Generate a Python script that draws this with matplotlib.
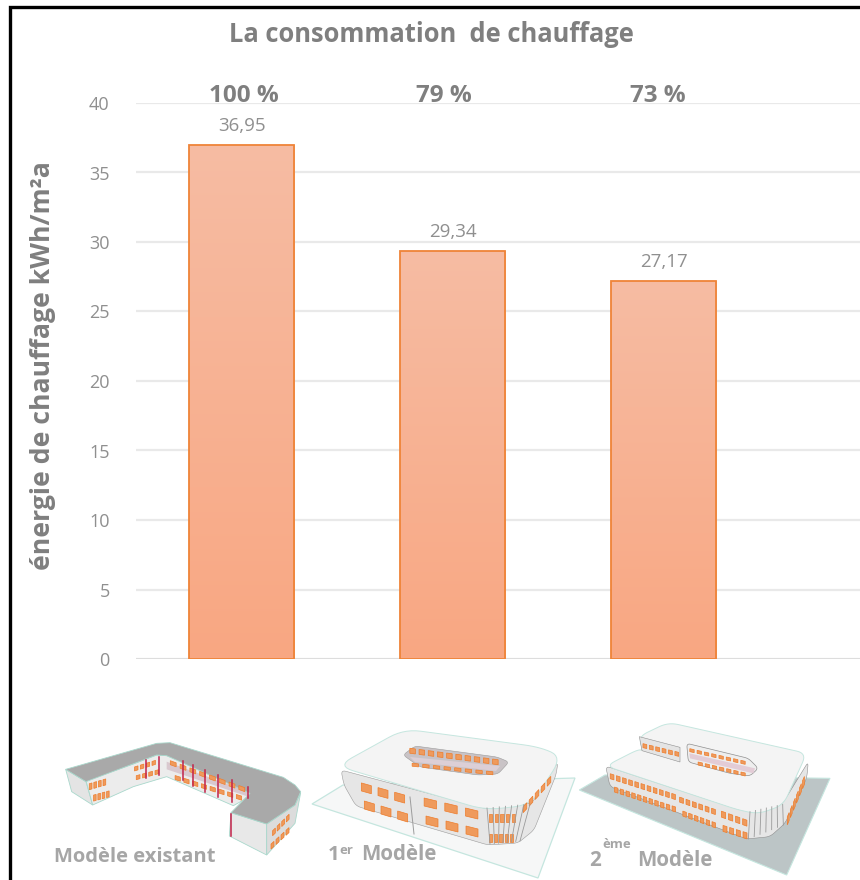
import numpy as np
import matplotlib
matplotlib.use('Agg')
import matplotlib.pyplot as plt
from matplotlib.patches import Polygon

plt.rcParams['font.family'] = ['Open Sans', 'DejaVu Sans']

categories = ['Modèle existant', '1er Modèle', '2ème Modèle']
values = [36.95, 29.34, 27.17]
value_labels = ['36,95', '29,34', '27,17']
percent_labels = ['100 %', '79 %', '73 %']
y_ticks = [0, 5, 10, 15, 20, 25, 30, 35, 40]

GREY = '#7f7f7f'
LIGHT = '#8f8f8f'
CAPTION = '#a6a6a6'
ORANGE = '#ef8438'
W, H = 860, 880

fig = plt.figure(figsize=(W / 100, H / 100), dpi=100)
ax = fig.add_axes([136 / W, 1 - 659 / H, (W - 136) / W, (659 - 103) / H])

ax.set_xlim(-0.5, 2.93)
ax.set_ylim(0, 40)
ax.set_yticks(y_ticks)
ax.set_xticks([])
ax.tick_params(axis='y', length=0, pad=19, labelsize=13, labelcolor=LIGHT)
ax.grid(axis='y', color='#e9e9e9', linewidth=1.6)
ax.set_axisbelow(True)
for s in ax.spines.values():
    s.set_visible(False)
ax.axhline(0, color='#dcdcdc', linewidth=2, zorder=1)

# barres avec degrade vertical
gradient = np.linspace(0, 1, 256).reshape(-1, 1)
cmap = matplotlib.colors.LinearSegmentedColormap.from_list('bar', ['#f9a782', '#f6bca3'])
bars = ax.bar(range(3), values, width=0.5, facecolor='none', edgecolor=ORANGE, linewidth=1.3, zorder=4)
for i, rect in enumerate(bars):
    im = ax.imshow(gradient, cmap=cmap, origin='lower', aspect='auto', zorder=3,
                   extent=(i - 0.25, i + 0.25, 0, values[i]))
    im.set_clip_path(rect)
ax.set_xlim(-0.5, 2.93)
ax.set_ylim(0, 40)

for i, v in enumerate(values):
    ax.text(i, v + 0.75, value_labels[i], ha='center', va='bottom', fontsize=13.5, color=LIGHT)

percent_pos = [0.01, 0.96, 1.97]
for x, label in zip(percent_pos, percent_labels):
    ax.text(x, 40.1, label, ha='center', va='baseline', fontsize=17.5, fontweight='bold',
            color=GREY, clip_on=False, zorder=5)

# calque en pixels pour le cadre, les textes et les maquettes
ov = fig.add_axes([0, 0, 1, 1], zorder=10)
ov.set_xlim(0, W)
ov.set_ylim(H, 0)
ov.axis('off')
ov.patch.set_alpha(0)

ov.plot([10, 10, W], [H, 7, 7], color='black', linewidth=2.4, solid_joinstyle='miter')

ov.text(431, 34, 'La consommation  de chauffage', ha='center', va='center', fontsize=18.4,
        fontweight='bold', color=GREY)
ov.text(43, 366, 'énergie de chauffage kWh/m²a', rotation=90, ha='center', va='center',
        fontsize=19.2, fontweight='bold', color=GREY)

ov.text(54, 857, categories[0], ha='left', va='center', fontsize=14.5, fontweight='bold', color=CAPTION)
ov.text(328, 855, '1', ha='left', va='center', fontsize=14.5, fontweight='bold', color=CAPTION)
ov.text(339, 850, 'er', ha='left', va='center', fontsize=9.5, fontweight='bold', color=CAPTION)
ov.text(361, 855, 'Modèle', ha='left', va='center', fontsize=14.8, fontweight='bold', color=CAPTION)
ov.text(589, 860, '2', ha='left', va='center', fontsize=14.8, fontweight='bold', color=CAPTION)
ov.text(602, 845, 'ème', ha='left', va='center', fontsize=9.5, fontweight='bold', color=CAPTION)
ov.text(637, 860, 'Modèle', ha='left', va='center', fontsize=14.8, fontweight='bold', color=CAPTION)


def poly(pts, fc, ec='none', lw=0.6, z=11):
    ov.add_patch(Polygon(pts, closed=True, facecolor=fc, edgecolor=ec, linewidth=lw, zorder=z))


# arrondit les angles d'un contour, rayon en pixels
def rounded(pts, r):
    pts = [np.array(p, float) for p in pts]
    out = []
    n = len(pts)
    for i in range(n):
        p, prev, nxt = pts[i], pts[i - 1], pts[(i + 1) % n]
        a = p + (prev - p) * min(r / np.linalg.norm(prev - p), 0.5)
        b = p + (nxt - p) * min(r / np.linalg.norm(nxt - p), 0.5)
        for t in np.linspace(0, 1, 8):
            out.append((1 - t) ** 2 * a + 2 * t * (1 - t) * p + t ** 2 * b)
    return out


def windows(a, b, h, n, fill=0.6, color='#ef9a5c', z=13):
    a, b = np.array(a, float), np.array(b, float)
    step = (b - a) / n
    for k in range(n):
        p = a + step * (k + (1 - fill) / 2)
        q = p + step * fill
        poly([p, q, q + [0, h], p + [0, h]], color, ec='#ee7d2c', lw=0.5, z=z)


def mullions(a, b, c, d, n, color='#9a9a9a', lw=0.6, z=13):
    a, b, c, d = [np.array(p, float) for p in (a, b, c, d)]
    for t in np.linspace(0, 1, n):
        p, q = a + (b - a) * t, c + (d - c) * t
        ov.plot([p[0], q[0]], [p[1], q[1]], color=color, linewidth=lw, zorder=z)


# modele existant
z1 = lambda pts: [(x / 3, 690 + y / 3) for x, y in pts]
z2 = lambda pts: [(430 + x / 3, 690 + y / 3) for x, y in pts]
EDGE = '#a9d8cc'

poly(z1([(197, 238), (258, 275), (278, 345), (215, 305)]), '#e4e4e4', EDGE)
poly(z1([(258, 272), (400, 222), (470, 195), (500, 197), (755, 298), (745, 322), (700, 347),
         (500, 260), (400, 290), (278, 345)]), '#ececec', EDGE)
poly(z1([(500, 215), (745, 305), (745, 320), (500, 238)]), '#d9c8cf')
poly(z1([(693, 368), (800, 402), (800, 495), (688, 438)]), '#e8e8e8', EDGE)
poly(z1([(800, 402), (885, 345), (902, 308), (885, 400), (800, 495)]), '#dcdcdc', EDGE)
poly(z1([(197, 238), (470, 160), (510, 158), (850, 262), (885, 285), (902, 305), (885, 345),
         (800, 402), (693, 368), (750, 310), (500, 197), (470, 195), (258, 275)]), '#a9a9a9', EDGE)
windows(z1([(265, 282)])[0], z1([(320, 266)])[0], 6, 4)
windows(z1([(278, 316)])[0], z1([(330, 302)])[0], 6, 4)
windows(z1([(400, 232)])[0], z1([(470, 210)])[0], 4, 4)
windows(z1([(405, 258)])[0], z1([(480, 238)])[0], 4, 4)
windows(z1([(505, 210)])[0], z1([(740, 295)])[0], 4, 8)
windows(z1([(520, 255)])[0], z1([(730, 320)])[0], 4, 8)
windows(z1([(815, 425)])[0], z1([(870, 370)])[0], 5, 4)
windows(z1([(810, 465)])[0], z1([(870, 410)])[0], 5, 4)
for x, y0, y1 in [(437, 210, 265), (478, 200, 255), (548, 213, 270), (578, 225, 288), (616, 240, 305),
                  (655, 255, 320), (697, 270, 337), (745, 290, 325), (693, 372, 437)]:
    ov.plot([x / 3, x / 3], [690 + y0 / 3, 690 + y1 / 3], color='#c2224a', linewidth=1.1, zorder=14)

# 1er modele
poly([(312, 804), (343, 785), (575, 778), (538, 878)], '#f6f7f7', '#c5e6df', lw=0.9)
poly(rounded([(341, 770), (487, 809), (532, 803), (558, 762), (556, 775), (534, 830), (518, 843), (488, 845),
              (356, 806), (344, 785)], 5), '#e6e6e6', '#9c9c9c', lw=0.4)
poly(rounded([(337, 766), (404, 729), (540, 747), (562, 757), (531, 805), (485, 810)], 17),
     '#f4f4f4', '#c5e6df', lw=0.7)
poly(rounded([(403, 755), (415, 746), (497, 757), (509, 762), (498, 774), (478, 775), (420, 767)], 4),
     '#c9c3c6', '#9c9c9c', lw=0.4)
poly([(410, 757), (500, 766), (496, 771), (415, 762)], '#dccfd6')
windows((408, 748), (500, 760), 5, 10, z=13)
windows((410, 763), (495, 772), 3, 8, z=13)
windows((358, 782), (408, 796), 8, 3)
windows((361, 800), (411, 815), 8, 3)
windows((420, 797), (482, 812), 8, 3)
windows((422, 815), (482, 830), 8, 3)
windows((488, 814), (516, 814), 8, 5)
windows((488, 834), (514, 834), 8, 5)
windows((522, 808), (552, 775), 6, 5)
mullions((487, 808), (530, 804), (490, 844), (520, 841), 8)
ov.plot([410, 414], [797, 834], color='#9c9c9c', linewidth=0.7, zorder=13)

# 2eme modele
poly(z2([(448, 300), (525, 255), (1200, 265), (1070, 555)]), '#bcc5c6', '#c5e6df', lw=0.8)
poly(rounded(z2([(527, 228), (930, 360), (1000, 365), (1058, 340), (1135, 215), (1130, 265), (1065, 400),
                 (1020, 440), (950, 447), (540, 290)]), 5), '#e6e6e6', '#8f8f8f', lw=0.4)
poly(rounded(z2([(625, 140), (715, 97), (1130, 190), (1060, 345), (985, 372), (925, 360), (527, 228), (625, 178),
                 (640, 182)]), 10), '#f4f4f4', '#c5e6df', lw=0.7)
poly(z2([(628, 140), (750, 172), (750, 216), (636, 182)]), '#e4e4e4', '#8f8f8f', lw=0.4)
poly(rounded(z2([(770, 160), (955, 205), (985, 235), (960, 258), (900, 250), (775, 216)]), 4),
     '#eeeeee', '#8f8f8f', lw=0.5)
poly(z2([(778, 190), (975, 235), (970, 250), (780, 205)]), '#e3ccd6')
ws3 = [((635, 160), (750, 188), 4, 6), ((775, 175), (950, 215), 3, 8), ((800, 215), (950, 250), 3, 7),
       ((537, 250), (740, 315), 5, 11), ((550, 290), (740, 352), 5, 11), ((745, 320), (860, 360), 5, 6),
       ((755, 362), (860, 400), 5, 6), ((870, 362), (955, 392), 6, 4), ((875, 405), (955, 430), 6, 4)]
for a, b, h, n in ws3:
    windows(z2([a])[0], z2([b])[0], h, n)
windows(z2([(1070, 385)])[0], z2([(1125, 255)])[0], 8, 6)
mullions(z2([(960, 365)])[0], z2([(1058, 343)])[0], z2([(955, 447)])[0], z2([(1060, 405)])[0], 7)

fig.savefig('out.png', dpi=100)
